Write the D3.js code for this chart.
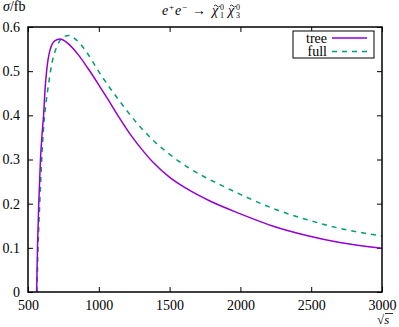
<!DOCTYPE html>
<html>
<head>
<meta charset="utf-8">
<script src="https://cdn.jsdelivr.net/npm/d3@7"></script>
<style>
  body { margin: 0; background: #fff; }
  svg text { font-family: "Liberation Serif", "Times New Roman", Tinos, "DejaVu Serif", serif !important; }
</style>
</head>
<body>
<div id="chart"></div>
<script>
// data
const treeSqrtS = [561, 567, 576, 588, 600, 610, 620, 632, 655, 691, 726, 782, 853, 924, 994, 1065, 1150, 1220, 1291, 1385, 1503, 1621, 1785, 2000, 2232, 2468, 2703, 3000]
const treeSigma = [0, 0.10, 0.20, 0.30, 0.36, 0.40, 0.457, 0.502, 0.547, 0.569, 0.573, 0.563, 0.538, 0.506, 0.472, 0.436, 0.392, 0.358, 0.328, 0.293, 0.259, 0.234, 0.206, 0.177, 0.149, 0.128, 0.112, 0.099]

const fullSqrtS = [563, 571, 583, 597, 612, 628, 645, 667, 703, 738, 785, 844, 912, 994, 1065, 1136, 1268, 1385, 1503, 1621, 1738, 1856, 2000, 2232, 2468, 2703, 3000]
const fullSigma = [0, 0.10, 0.20, 0.30, 0.38, 0.43, 0.47, 0.515, 0.555, 0.574, 0.581, 0.570, 0.544, 0.502, 0.468, 0.437, 0.383, 0.343, 0.311, 0.284, 0.262, 0.243, 0.221, 0.189, 0.164, 0.144, 0.127]

const xTicks = [500, 1000, 1500, 2000, 2500, 3000]
const yTicks = [0, 0.1, 0.2, 0.3, 0.4, 0.5, 0.6]
const seriesNames = ['tree', 'full']

const serif = '"Liberation Serif", "Times New Roman", Tinos, "DejaVu Serif", serif'

let dimensions = {
    width: 399,
    height: 327,
    margin: { top: 27, right: 17, bottom: 35, left: 28 },
}
dimensions.innerWidth = dimensions.width - dimensions.margin.left - dimensions.margin.right
dimensions.innerHeight = dimensions.height - dimensions.margin.top - dimensions.margin.bottom

const outer = d3.select('#chart').append('svg')
    .attr('width', dimensions.width)
    .attr('height', dimensions.height)
    .attr('font-family', serif)

const inner = outer.append('g')
    .attr('transform', `translate(${dimensions.margin.left},${dimensions.margin.top})`)

const xScale = d3.scaleLinear().domain([500, 3000]).range([0, dimensions.innerWidth])
const yScale = d3.scaleLinear().domain([0, 0.6]).range([dimensions.innerHeight, 0])

// axes, ticks pointing inward
const styleAxis = g => {
    g.attr('font-family', serif)
    g.select('.domain').remove()
    g.selectAll('line').attr('stroke', '#000').attr('stroke-width', 1)
    g.selectAll('text').attr('font-size', 14).attr('fill', '#000')
}

inner.append('g')
    .attr('transform', `translate(0,${dimensions.innerHeight})`)
    .call(d3.axisBottom(xScale).tickValues(xTicks).tickSizeInner(-5).tickSizeOuter(0).tickPadding(8)
        .tickFormat(d3.format('d')))
    .call(styleAxis)

inner.append('g')
    .call(d3.axisTop(xScale).tickValues(xTicks).tickSizeInner(-5).tickSizeOuter(0).tickFormat(''))
    .call(styleAxis)

inner.append('g')
    .call(d3.axisLeft(yScale).tickValues(yTicks).tickSizeInner(-5).tickSizeOuter(0).tickPadding(8)
        .tickFormat(d => d === 0 ? '0' : d3.format('.1f')(d)))
    .call(styleAxis)

inner.append('g')
    .attr('transform', `translate(${dimensions.innerWidth},0)`)
    .call(d3.axisRight(yScale).tickValues(yTicks).tickSizeInner(-5).tickSizeOuter(0).tickFormat(''))
    .call(styleAxis)

// curves
const line = d3.line()
    .x(d => xScale(d[0]))
    .y(d => yScale(d[1]))
    .curve(d3.curveMonotoneX)

inner.append('path')
    .attr('d', line(d3.zip(fullSqrtS, fullSigma)))
    .attr('fill', 'none')
    .attr('stroke', '#009e73')
    .attr('stroke-width', 1.5)
    .attr('stroke-dasharray', '5,5')

inner.append('path')
    .attr('d', line(d3.zip(treeSqrtS, treeSigma)))
    .attr('fill', 'none')
    .attr('stroke', '#9400d3')
    .attr('stroke-width', 1.5)

// frame
inner.append('rect')
    .attr('width', dimensions.innerWidth)
    .attr('height', dimensions.innerHeight)
    .attr('fill', 'none')
    .attr('stroke', '#000')
    .attr('stroke-width', 1.5)

// legend
const legend = outer.append('g').attr('transform', 'translate(293,31)')
legend.append('rect')
    .attr('width', 81).attr('height', 27)
    .attr('fill', '#fff').attr('stroke', '#000').attr('stroke-width', 1)

seriesNames.forEach((name, i) => {
    const y = 7 + i * 13.5
    legend.append('text')
        .attr('x', 34).attr('y', y + 4.5)
        .attr('text-anchor', 'end')
        .attr('font-size', 14)
        .text(name)
    legend.append('line')
        .attr('x1', 39).attr('x2', 74)
        .attr('y1', y).attr('y2', y)
        .attr('stroke', i === 0 ? '#9400d3' : '#009e73')
        .attr('stroke-width', 1.5)
        .attr('stroke-dasharray', i === 0 ? null : '5,5')
})

// labels
outer.append('text')
    .attr('x', 3).attr('y', 11)
    .attr('font-size', 14)
    .html('<tspan font-style="italic">σ</tspan>/fb')

// title e+e- -> chi1 chi3, pieces placed one after another
const title = outer.append('g').attr('transform', 'translate(162,15)')
const piece = (x, y, size, txt, italic) => title.append('text')
    .attr('x', x).attr('y', y)
    .attr('font-size', size)
    .attr('font-style', italic ? 'italic' : null)
    .text(txt)
const tilde = x => title.append('path')
    .attr('d', `M${x},-9 q1.5,-2 3,0 t3,0`)
    .attr('fill', 'none').attr('stroke', '#000').attr('stroke-width', 0.8)
piece(0, 0, 14, 'e', true)
piece(7, -5, 9, '+')
piece(13, 0, 14, 'e', true)
piece(20, -5, 9, '−')
piece(30, 0, 14, '→')
piece(50, 0, 14, 'χ', true)
tilde(52)
piece(58, -5, 8, '0')
piece(58, 3, 8, '1')
piece(66, 0, 14, 'χ', true)
tilde(68)
piece(74, -5, 8, '0')
piece(74, 3, 8, '3')

outer.append('text')
    .attr('x', 377).attr('y', 324)
    .attr('font-size', 13)
    .html('√<tspan font-style="italic">s</tspan>')
outer.append('line')
    .attr('x1', 385).attr('x2', 393)
    .attr('y1', 313.5).attr('y2', 313.5)
    .attr('stroke', '#000').attr('stroke-width', 0.8)
</script>
</body>
</html>
